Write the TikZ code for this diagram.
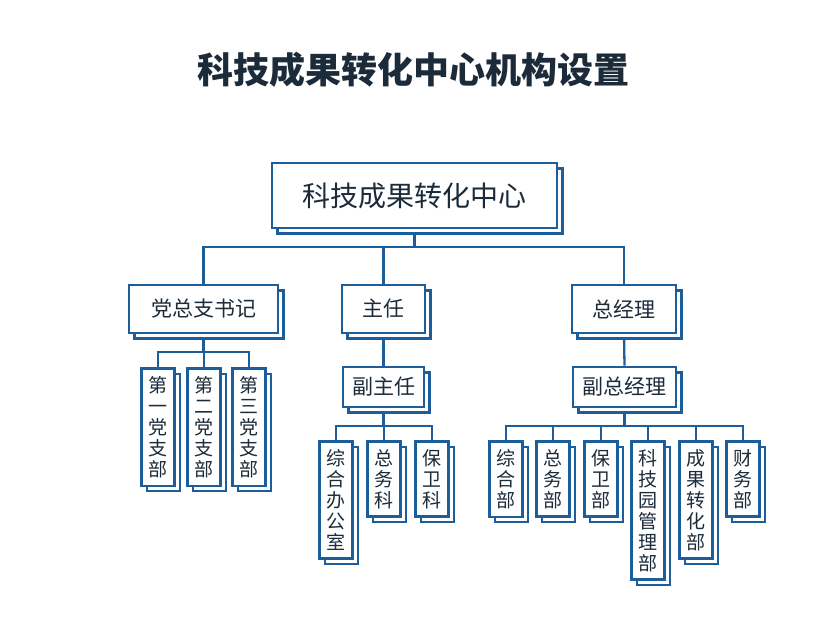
\documentclass[tikz,border=0pt]{standalone}
\usepackage{fontspec}
\setmainfont{Noto Sans CJK SC}
\usepackage{tikz}
\usetikzlibrary{backgrounds}

\definecolor{orgblue}{HTML}{1B5E9B}
\definecolor{orgtext}{HTML}{1C2B3A}

\tikzset{
  unit/.style={draw=orgblue, line width=2.6pt, fill=white, text=orgtext, inner sep=0pt,
    preaction={draw=orgblue, fill=white, line width=2.2pt, transform canvas={xshift=5.5pt, yshift=-5.5pt}}},
  head/.style={unit, minimum height=48pt, font=\fontsize{21}{24}\selectfont},
  deputy/.style={unit, minimum height=40pt, font=\fontsize{21}{24}\selectfont},
  dept/.style={unit, anchor=north, minimum width=33pt, inner ysep=8pt, align=center,
    font=\fontsize{19}{21}\selectfont},
  link/.style={draw=orgblue, line width=2.3pt}
}

\begin{document}
\begin{tikzpicture}[x=1pt,y=-1pt]
\useasboundingbox (0,0) rectangle (816,630);
\node[text=orgtext, font=\fontsize{36}{40}\selectfont\bfseries] (title) at (413,70) {科技成果转化中心机构设置};

\node[unit, minimum width=285pt, minimum height=65pt, font=\fontsize{28}{32}\selectfont] (center) at (414.5,195.5) {科技成果转化中心};

\node[head, minimum width=149pt] (party) at (203.5,309) {党总支书记};
\node[head, minimum width=83pt] (dir) at (383.5,309) {主任};
\node[head, minimum width=104pt] (gm) at (624,309) {总经理};

\node[deputy, minimum width=81pt] (vdir) at (383.5,387) {副主任};
\node[deputy, minimum width=103pt] (vgm) at (624.5,387) {副总经理};

\node[dept] (b1) at (158,367) {第\\一\\党\\支\\部};
\node[dept] (b2) at (204,367) {第\\二\\党\\支\\部};
\node[dept] (b3) at (249,367) {第\\三\\党\\支\\部};

\node[dept] (d1) at (336,440) {综\\合\\办\\公\\室};
\node[dept] (d2) at (384,440) {总\\务\\科};
\node[dept] (d3) at (432,440) {保\\卫\\科};

\node[dept] (m1) at (506,440) {综\\合\\部};
\node[dept] (m2) at (553,440) {总\\务\\部};
\node[dept] (m3) at (601,440) {保\\卫\\部};
\node[dept] (m4) at (648,440) {科\\技\\园\\管\\理\\部};
\node[dept] (m5) at (696,440) {成\\果\\转\\化\\部};
\node[dept] (m6) at (743,440) {财\\务\\部};

\begin{pgfonlayer}{background}
\foreach \c in {party,dir,gm}
  \draw[link] (center.south) -- ++(0,18) -| (\c.north);
\foreach \c in {b1,b2,b3}
  \draw[link] (party.south) -- ++(0,18) -| (\c.north);
\draw[link] (dir.south) -- (vdir.north);
\draw[link] (gm.south) -- (vgm.north);
\foreach \c in {d1,d2,d3}
  \draw[link] (vdir.south) -- ++(0,18) -| (\c.north);
\foreach \c in {m1,m2,m3,m4,m5,m6}
  \draw[link] (vgm.south) -- ++(0,18) -| (\c.north);
\end{pgfonlayer}
\end{tikzpicture}
\end{document}
